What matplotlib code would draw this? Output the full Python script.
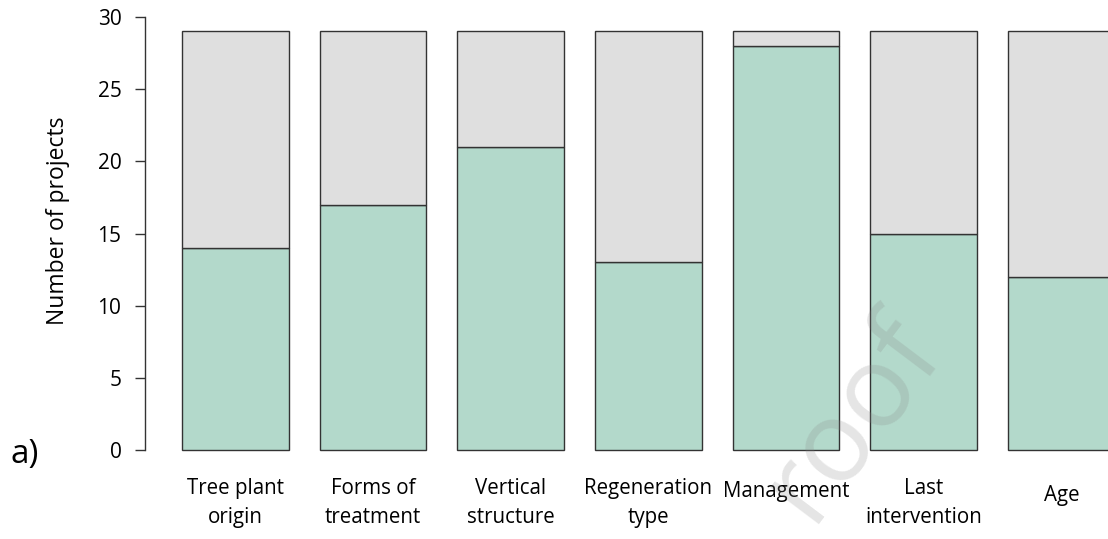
import matplotlib
matplotlib.use("Agg")
import matplotlib.pyplot as plt
import matplotlib.transforms as mtransforms
import numpy as np

plt.rcParams['font.family'] = ['Open Sans', 'DejaVu Sans']

categories = ["Tree plant\norigin", "Forms of\ntreatment", "Vertical\nstructure",
              "Regeneration\ntype", "Management", "Last\nintervention", "Age"]
yes_values = [14, 17, 21, 13, 28, 15, 12]
total_projects = [29, 29, 29, 29, 29, 29, 29]
y_ticks = [0, 5, 10, 15, 20, 25, 30]

no_values = [t - y for t, y in zip(total_projects, yes_values)]

W, H = 1108, 539
fig = plt.figure(figsize=(W / 100, H / 100), dpi=100)
ax_left = 145 / W
ax_bottom = 1 - 450 / H
ax_top = 1 - 17 / H
ax = fig.add_axes([ax_left, ax_bottom, 1 - ax_left, ax_top - ax_bottom])

x = np.arange(len(categories))
green = "#b3d9cb"
grey = "#dfdfdf"
edge = "#333333"
bw = 0.775
ax.bar(x, yes_values, width=bw, color=green, edgecolor=edge, linewidth=1.0, clip_on=False, zorder=2)
ax.bar(x, no_values, bottom=yes_values, width=bw, color=grey, edgecolor=edge, linewidth=1.0,
       clip_on=False, zorder=2)

ax.set_xlim(-0.657, 6.338)
ax.set_ylim(0, 30)
for s in ["top", "right", "bottom"]:
    ax.spines[s].set_visible(False)
ax.spines["left"].set_bounds(0, 30)
ax.spines["left"].set_color(edge)
ax.spines["left"].set_linewidth(1.0)
ax.set_xticks([])
ax.set_yticks(y_ticks)
ax.tick_params(axis="y", length=7, width=1.0, color=edge, pad=10, labelsize=15)

ax.set_ylabel("Number of projects", fontsize=16.5)
ax.yaxis.set_label_coords((70 - 145) / (W - 145), 0.53)

trans = mtransforms.blended_transform_factory(ax.transData, ax.transAxes)
ax_h = 450 - 17
label_y_px = [503, 503, 503, 503, 492, 503, 495]
for xi, lab, ypx in zip(x, categories, label_y_px):
    ax.text(xi, (450 - ypx) / ax_h, lab, transform=trans, ha="center", va="center",
            fontsize=14.8, linespacing=1.45, clip_on=False)

fig.text(10 / W, 1 - 455 / H, "a)", fontsize=24, ha="left", va="center")

fig.text(852 / W, 1 - 418 / H, "roof", fontsize=82, rotation=53, color="#888888", alpha=0.22,
         ha="center", va="center", zorder=10)

fig.savefig("out.png", dpi=100)
